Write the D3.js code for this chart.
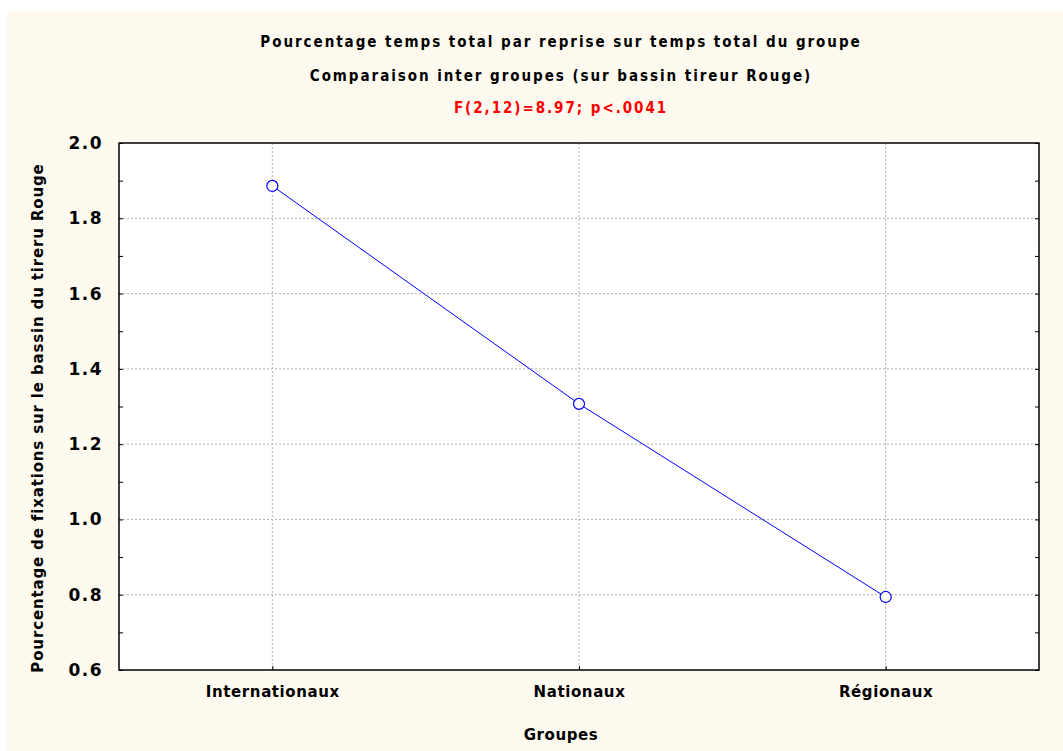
<!DOCTYPE html>
<meta charset="utf-8">
<style>
  body { margin: 0; background: white; }
  text { font-family: "DejaVu Sans", Verdana, sans-serif; font-weight: bold; }
  .title { font-family: "DejaVu Sans Condensed", "DejaVu Sans", sans-serif; font-size: 15px; letter-spacing: 1.95px; }
  .grid line { stroke: #b4b4b4; stroke-dasharray: 2,2; }
</style>
<body>
<script src="https://d3js.org/d3.v7.min.js"></script>
<script>
  var groups = ["Internationaux", "Nationaux", "Régionaux"];
  var values = [1.886, 1.307, 0.794];
  var yTicks = [0.6, 0.8, 1.0, 1.2, 1.4, 1.6, 1.8, 2.0];
  var yMinor = [0.7, 0.9, 1.1, 1.3, 1.5, 1.7, 1.9];
  var titles = ["Pourcentage temps total par reprise sur temps total du groupe",
                "Comparaison inter groupes (sur bassin tireur Rouge)"];
  var stat = "F(2,12)=8.97; p<.0041";

  var width = 1063, height = 751;
  var pLeft = 119, pRight = 1039, pTop = 143, pBottom = 670;

  var svg = d3.select("body").append("svg")
      .attr("width", width)
      .attr("height", height);

  svg.append("rect")
      .attr("x", 7).attr("y", 11)
      .attr("width", width - 7).attr("height", height - 11)
      .attr("fill", "#fefaf0");

  svg.append("rect")
      .attr("x", pLeft).attr("y", pTop)
      .attr("width", pRight - pLeft).attr("height", pBottom - pTop)
      .attr("fill", "white");

  var x = d3.scalePoint().domain(groups).range([pLeft, pRight]).padding(0.5);
  var y = d3.scaleLinear().domain([0.6, 2.0]).range([pBottom, pTop]);

  // grid
  var grid = svg.append("g").attr("class", "grid");
  grid.selectAll(".h").data(yTicks.slice(1, -1)).enter().append("line")
      .attr("x1", pLeft).attr("x2", pRight)
      .attr("y1", d => y(d)).attr("y2", d => y(d));
  grid.selectAll(".v").data(groups).enter().append("line")
      .attr("x1", d => x(d)).attr("x2", d => x(d))
      .attr("y1", pTop).attr("y2", pBottom);

  // axes with inward ticks
  var yAxis = d3.axisLeft(y).tickValues(yTicks).tickFormat(d3.format(".1f")).tickSizeInner(-4).tickSizeOuter(0).tickPadding(16);
  var gy = svg.append("g").attr("transform", "translate(" + pLeft + ",0)").call(yAxis);
  gy.select(".domain").remove();
  gy.selectAll("text").style("font-size", "17px").style("letter-spacing", "1.5px").attr("fill", "black");
  gy.selectAll("line").attr("stroke", "black");

  var yMinorAxis = d3.axisLeft(y).tickValues(yMinor).tickFormat("").tickSizeInner(-4).tickSizeOuter(0);
  var gym = svg.append("g").attr("transform", "translate(" + pLeft + ",0)").call(yMinorAxis);
  gym.select(".domain").remove();

  var yRight = d3.axisRight(y).tickValues(yTicks.concat(yMinor)).tickFormat("").tickSizeInner(-4).tickSizeOuter(0);
  var gyr = svg.append("g").attr("transform", "translate(" + pRight + ",0)").call(yRight);
  gyr.select(".domain").remove();

  var xAxis = d3.axisBottom(x).tickSizeInner(-4).tickSizeOuter(0).tickPadding(16);
  var gx = svg.append("g").attr("transform", "translate(0," + pBottom + ")").call(xAxis);
  gx.select(".domain").remove();
  gx.selectAll("text").style("font-size", "15px").style("letter-spacing", "0.6px").attr("fill", "black");

  svg.append("rect")
      .attr("x", pLeft).attr("y", pTop)
      .attr("width", pRight - pLeft).attr("height", pBottom - pTop)
      .attr("fill", "none").attr("stroke", "black").attr("stroke-width", 1.5);

  // data line
  var line = d3.line().x((d, i) => x(groups[i])).y(d => y(d));
  svg.append("path").datum(values)
      .attr("d", line)
      .attr("fill", "none").attr("stroke", "#0000ff").attr("stroke-width", 1);
  svg.selectAll(".pt").data(values).enter().append("circle")
      .attr("cx", (d, i) => x(groups[i])).attr("cy", d => y(d))
      .attr("r", 5.5)
      .attr("fill", "white").attr("stroke", "#0000ff").attr("stroke-width", 1.2);

  // titles
  svg.selectAll(".title").data(titles).enter().append("text")
      .attr("class", "title")
      .attr("x", 561).attr("y", (d, i) => 47 + i * 34)
      .attr("text-anchor", "middle")
      .text(d => d);
  svg.append("text").attr("class", "title")
      .attr("x", 561).attr("y", 113)
      .attr("text-anchor", "middle").attr("fill", "#ff0000")
      .text(stat);

  svg.append("text")
      .attr("x", 561).attr("y", 740)
      .attr("text-anchor", "middle")
      .style("font-size", "15px").style("letter-spacing", "0.6px")
      .text("Groupes");

  svg.append("text")
      .attr("transform", "translate(43,418) rotate(-90)")
      .attr("text-anchor", "middle")
      .style("font-size", "15px").style("letter-spacing", "0.85px")
      .text("Pourcentage de fixations sur le bassin du tireru Rouge");
</script>
</body>
